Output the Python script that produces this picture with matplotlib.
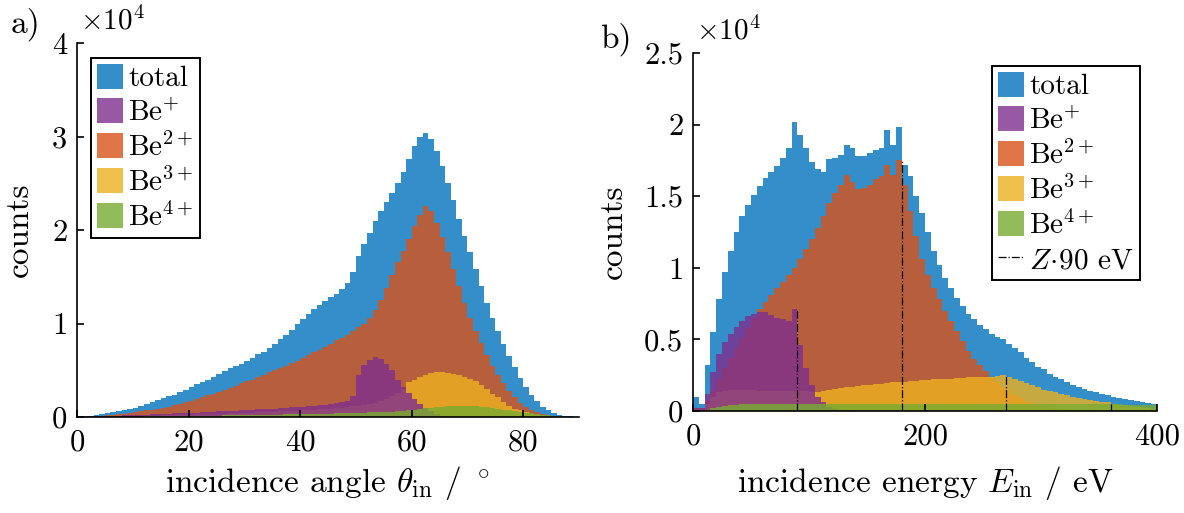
import matplotlib
matplotlib.use('Agg')
import matplotlib.pyplot as plt
from matplotlib.ticker import FuncFormatter
import numpy as np

# ---- panel a: incidence angle histogram, 1 deg bins, counts in units of 1e4
angle_edges = np.arange(0, 91, 1)
angle_total = [0.005, 0.01, 0.015, 0.02, 0.03, 0.04, 0.05, 0.06, 0.07, 0.085,
               0.1, 0.12, 0.14, 0.16, 0.18, 0.2, 0.22, 0.24, 0.27, 0.29,
               0.32, 0.35, 0.37, 0.4, 0.43, 0.46, 0.49, 0.52, 0.55, 0.57,
               0.6, 0.63, 0.67, 0.7, 0.74, 0.78, 0.83, 0.88, 0.93, 0.99,
               1.05, 1.1, 1.15, 1.2, 1.24, 1.28, 1.32, 1.37, 1.43, 1.55,
               1.72, 1.85, 1.97, 2.1, 2.2, 2.3, 2.4, 2.5, 2.62, 2.76,
               2.9, 2.99, 3.04, 2.97, 2.85, 2.68, 2.5, 2.32, 2.12, 1.94,
               1.76, 1.58, 1.4, 1.22, 1.06, 0.92, 0.78, 0.65, 0.53, 0.42,
               0.32, 0.24, 0.17, 0.11, 0.07, 0.04, 0.025, 0.012, 0.006, 0.002]
angle_be1 = [0.002, 0.004, 0.006, 0.008, 0.01, 0.012, 0.014, 0.016, 0.018, 0.02,
             0.022, 0.024, 0.026, 0.029, 0.031, 0.033, 0.036, 0.038, 0.04, 0.043,
             0.045, 0.048, 0.05, 0.053, 0.056, 0.059, 0.062, 0.066, 0.069, 0.072,
             0.075, 0.078, 0.081, 0.084, 0.087, 0.09, 0.094, 0.098, 0.102, 0.106,
             0.11, 0.115, 0.12, 0.125, 0.13, 0.14, 0.15, 0.16, 0.17, 0.22,
             0.45, 0.56, 0.61, 0.64, 0.62, 0.57, 0.5, 0.4, 0.32, 0.26,
             0.19, 0.14, 0.1, 0.06, 0.03, 0.015, 0.005, 0.002, 0, 0,
             0, 0, 0, 0, 0, 0, 0, 0, 0, 0,
             0, 0, 0, 0, 0, 0, 0, 0, 0, 0]
angle_be2 = [0.002, 0.005, 0.008, 0.012, 0.016, 0.02, 0.025, 0.03, 0.037, 0.044,
             0.05, 0.06, 0.07, 0.08, 0.09, 0.1, 0.11, 0.13, 0.14, 0.16,
             0.17, 0.19, 0.21, 0.23, 0.25, 0.27, 0.29, 0.31, 0.33, 0.36,
             0.38, 0.4, 0.43, 0.45, 0.48, 0.5, 0.52, 0.55, 0.58, 0.6,
             0.63, 0.66, 0.69, 0.72, 0.75, 0.78, 0.82, 0.85, 0.88, 0.92,
             0.96, 1.0, 1.06, 1.14, 1.25, 1.38, 1.52, 1.66, 1.78, 1.9,
             2.04, 2.16, 2.26, 2.2, 2.08, 1.93, 1.76, 1.58, 1.4, 1.22,
             1.06, 0.92, 0.79, 0.66, 0.55, 0.45, 0.36, 0.28, 0.21, 0.15,
             0.11, 0.075, 0.05, 0.03, 0.02, 0.01, 0.005, 0.003, 0.001, 0]
angle_be3 = [0, 0.001, 0.002, 0.002, 0.003, 0.004, 0.005, 0.006, 0.007, 0.008,
             0.01, 0.011, 0.012, 0.014, 0.015, 0.017, 0.018, 0.02, 0.022, 0.023,
             0.025, 0.027, 0.029, 0.031, 0.033, 0.035, 0.037, 0.039, 0.041, 0.043,
             0.045, 0.047, 0.05, 0.052, 0.055, 0.057, 0.06, 0.062, 0.065, 0.068,
             0.07, 0.074, 0.077, 0.081, 0.085, 0.09, 0.095, 0.1, 0.106, 0.113,
             0.12, 0.13, 0.14, 0.155, 0.17, 0.19, 0.22, 0.26, 0.3, 0.37,
             0.4, 0.43, 0.45, 0.47, 0.48, 0.48, 0.475, 0.465, 0.45, 0.43,
             0.41, 0.38, 0.34, 0.3, 0.25, 0.21, 0.16, 0.12, 0.09, 0.07,
             0.05, 0.035, 0.025, 0.015, 0.01, 0.005, 0.002, 0, 0, 0]
angle_be4 = [0, 0, 0.001, 0.001, 0.001, 0.002, 0.002, 0.003, 0.003, 0.004,
             0.005, 0.005, 0.006, 0.007, 0.008, 0.008, 0.009, 0.01, 0.011, 0.011,
             0.012, 0.013, 0.014, 0.015, 0.015, 0.016, 0.017, 0.018, 0.019, 0.019,
             0.02, 0.021, 0.022, 0.023, 0.024, 0.025, 0.026, 0.027, 0.028, 0.029,
             0.03, 0.031, 0.033, 0.034, 0.036, 0.037, 0.039, 0.04, 0.042, 0.043,
             0.045, 0.047, 0.049, 0.051, 0.053, 0.055, 0.058, 0.062, 0.067, 0.072,
             0.078, 0.085, 0.092, 0.1, 0.106, 0.11, 0.115, 0.118, 0.12, 0.12,
             0.118, 0.115, 0.11, 0.103, 0.096, 0.088, 0.08, 0.072, 0.063, 0.055,
             0.047, 0.04, 0.032, 0.025, 0.018, 0.012, 0.008, 0.004, 0.002, 0.001]

# ---- panel b: incidence energy histogram, 5 eV bins, counts in units of 1e4
energy_edges = np.arange(0, 405, 5)
energy_total = [0.1, 0.05, 0.32, 0.55, 0.78, 0.97, 1.12, 1.25, 1.36, 1.44,
                1.51, 1.57, 1.63, 1.67, 1.71, 1.77, 1.84, 2.02, 1.93, 1.84,
                1.74, 1.69, 1.67, 1.76, 1.77, 1.79, 1.86, 1.84, 1.78, 1.78,
                1.8, 1.82, 1.84, 1.96, 1.86, 1.98, 1.72, 1.64, 1.5, 1.38,
                1.25, 1.12, 1.02, 0.93, 0.86, 0.79, 0.73, 0.68, 0.64, 0.6,
                0.57, 0.54, 0.52, 0.5, 0.47, 0.44, 0.41, 0.37, 0.34, 0.31,
                0.29, 0.26, 0.24, 0.22, 0.2, 0.185, 0.17, 0.155, 0.14, 0.13,
                0.12, 0.11, 0.1, 0.09, 0.085, 0.075, 0.07, 0.06, 0.055, 0.05]
energy_be1 = [0.02, 0.02, 0.12, 0.27, 0.4, 0.48, 0.54, 0.59, 0.63, 0.66,
              0.68, 0.69, 0.69, 0.67, 0.65, 0.64, 0.63, 0.71, 0.46, 0.3,
              0.18, 0.1, 0.06, 0.03, 0.015, 0.008, 0.004, 0.002, 0, 0,
              0, 0, 0, 0, 0, 0, 0, 0, 0, 0,
              0, 0, 0, 0, 0, 0, 0, 0, 0, 0,
              0, 0, 0, 0, 0, 0, 0, 0, 0, 0,
              0, 0, 0, 0, 0, 0, 0, 0, 0, 0,
              0, 0, 0, 0, 0, 0, 0, 0, 0, 0]
energy_be2 = [0.02, 0.02, 0.08, 0.15, 0.22, 0.3, 0.37, 0.44, 0.51, 0.58,
              0.65, 0.71, 0.76, 0.81, 0.86, 0.9, 0.95, 1.0, 1.06, 1.13,
              1.2, 1.28, 1.36, 1.45, 1.52, 1.58, 1.65, 1.6, 1.55, 1.56,
              1.58, 1.62, 1.64, 1.72, 1.65, 1.75, 1.58, 1.4, 1.22, 1.06,
              0.95, 0.86, 0.78, 0.7, 0.63, 0.56, 0.49, 0.42, 0.36, 0.32,
              0.28, 0.24, 0.2, 0.17, 0.14, 0.11, 0.09, 0.07, 0.055, 0.045,
              0.035, 0.028, 0.022, 0.017, 0.013, 0.01, 0.008, 0.006, 0.005, 0.004,
              0.003, 0.002, 0.002, 0.001, 0.001, 0.001, 0, 0, 0, 0]
energy_be3 = [0, 0.01, 0.05, 0.1, 0.13, 0.14, 0.15, 0.15, 0.15, 0.15,
              0.15, 0.14, 0.14, 0.14, 0.14, 0.14, 0.14, 0.14, 0.14, 0.14,
              0.13, 0.13, 0.14, 0.15, 0.155, 0.16, 0.165, 0.17, 0.175, 0.18,
              0.185, 0.19, 0.19, 0.195, 0.2, 0.2, 0.205, 0.21, 0.21, 0.215,
              0.215, 0.22, 0.22, 0.225, 0.225, 0.23, 0.23, 0.235, 0.235, 0.24,
              0.24, 0.24, 0.245, 0.25, 0.24, 0.225, 0.21, 0.195, 0.18, 0.165,
              0.15, 0.14, 0.13, 0.12, 0.11, 0.1, 0.09, 0.085, 0.075, 0.07,
              0.065, 0.06, 0.05, 0.045, 0.04, 0.035, 0.03, 0.025, 0.02, 0.015]
energy_be4 = [0, 0, 0.01, 0.02, 0.03, 0.035, 0.04, 0.045, 0.05, 0.05,
              0.05, 0.05, 0.05, 0.052, 0.052, 0.052, 0.052, 0.052, 0.052, 0.052,
              0.052, 0.052, 0.052, 0.052, 0.052, 0.052, 0.052, 0.052, 0.052, 0.052,
              0.052, 0.052, 0.052, 0.052, 0.052, 0.052, 0.052, 0.052, 0.052, 0.052,
              0.052, 0.052, 0.052, 0.052, 0.052, 0.052, 0.052, 0.052, 0.052, 0.052,
              0.05, 0.05, 0.05, 0.05, 0.05, 0.05, 0.05, 0.05, 0.05, 0.05,
              0.05, 0.05, 0.05, 0.05, 0.05, 0.05, 0.048, 0.048, 0.048, 0.048,
              0.048, 0.048, 0.046, 0.046, 0.045, 0.044, 0.043, 0.042, 0.04, 0.04]

charge_states = [1, 2, 3, 4]   # Z * 90 eV markers
species = ['total', 'Be1', 'Be2', 'Be3', 'Be4']
labels = {'total': 'total', 'Be1': r'Be$^{+}$', 'Be2': r'Be$^{2+}$',
          'Be3': r'Be$^{3+}$', 'Be4': r'Be$^{4+}$'}
colors = {'total': '#0072BD', 'Be1': '#7E2F8E', 'Be2': '#D95319',
          'Be3': '#EDB120', 'Be4': '#77AC30'}
draw_order = ['total', 'Be2', 'Be3', 'Be1', 'Be4']
face_alpha = 0.8

params = {'font.family': 'serif',
          'font.serif': ['cmr10'],
          'mathtext.fontset': 'cm',
          'axes.formatter.use_mathtext': True,
          'font.size': 22,
          'axes.linewidth': 1.2,
          'xtick.direction': 'in',
          'ytick.direction': 'in',
          'xtick.major.size': 5,
          'ytick.major.size': 5,
          'xtick.major.width': 1.2,
          'ytick.major.width': 1.2,
          'xtick.major.pad': 9,
          'ytick.major.pad': 7,
          'xtick.labelsize': 22,
          'ytick.labelsize': 22,
          'legend.fontsize': 21}
plt.rcParams.update(params)

W, H = 1184, 513
fig = plt.figure(figsize=(W / 100, H / 100), dpi=100)


def px_axes(left, right, top, bottom):
    return fig.add_axes([left / W, 1 - bottom / H, (right - left) / W, (bottom - top) / H])


def draw_hist(ax, edges, data):
    handles = {}
    for key in draw_order:
        handles[key] = ax.stairs(data[key], edges, fill=True, color=colors[key],
                                 alpha=face_alpha, linewidth=0, label=labels[key])
    return handles


def style_axes(ax, xlim, ylim, xticks, yticks, xlabel):
    ax.set_xlim(*xlim)
    ax.set_ylim(*ylim)
    ax.set_xticks(xticks)
    ax.set_yticks(yticks)
    ax.yaxis.set_major_formatter(FuncFormatter(lambda v, p: '%g' % v))
    ax.xaxis.set_major_formatter(FuncFormatter(lambda v, p: '%g' % v))
    for s in ['top', 'right']:
        ax.spines[s].set_visible(False)
    ax.set_xlabel(xlabel, fontsize=24)
    ax.set_ylabel('counts', fontsize=24)
    ax.xaxis.label.set_va('center')
    ax.annotate(r'$\times10^4$', xy=(0, 1), xycoords='axes fraction',
                xytext=(3, 22), textcoords='offset pixels',
                ha='left', va='center', fontsize=21)


def add_legend(ax, handles, texts, loc, anchor):
    leg = ax.legend(handles, texts, loc=loc, bbox_to_anchor=anchor,
                    bbox_transform=fig.transFigure, frameon=True, fancybox=False,
                    edgecolor='black', framealpha=1, borderpad=0.2, borderaxespad=0,
                    handlelength=0.88, handleheight=0.95, handletextpad=0.2,
                    labelspacing=0.2)
    leg.get_frame().set_linewidth(1.4)
    return leg


# ---------------- panel a
ax1 = px_axes(77, 579, 43, 417)
h1 = draw_hist(ax1, angle_edges, {'total': angle_total, 'Be1': angle_be1, 'Be2': angle_be2,
                                   'Be3': angle_be3, 'Be4': angle_be4})
style_axes(ax1, (0, 90), (0, 4), [0, 20, 40, 60, 80], [0, 1, 2, 3, 4],
           r'incidence angle $\theta_\mathrm{in}$ / $^\circ$')
ax1.xaxis.set_label_coords(0.5, -(483 - 417) / 374)
ax1.yaxis.set_label_coords(-(77 - 34) / 502, 0.5)
add_legend(ax1, [h1[k] for k in species], [labels[k] for k in species],
           'upper left', (91 / W, 1 - 58 / H))

# ---------------- panel b
ax2 = px_axes(693, 1157, 53, 411)
e_data = {'total': energy_total, 'Be1': energy_be1, 'Be2': energy_be2,
          'Be3': energy_be3, 'Be4': energy_be4}
h2 = draw_hist(ax2, energy_edges, e_data)
line = None
for z in charge_states:
    e_z = 90 * z
    idx = int(e_z // 5) - 1
    top = e_data['Be%d' % z][idx]
    line, = ax2.plot([e_z, e_z], [0, top], color='black', linestyle='-.', linewidth=0.9)
style_axes(ax2, (0, 400), (0, 2.5), [0, 200, 400], [0, 0.5, 1, 1.5, 2, 2.5],
           r'incidence energy $E_\mathrm{in}$ / eV')
ax2.xaxis.set_label_coords(0.5, -(483 - 411) / 358)
ax2.yaxis.set_label_coords(-(693 - 628) / 464, 0.5)
add_legend(ax2, [h2[k] for k in species] + [line],
           [labels[k] for k in species] + [r'$Z\!\cdot\!90$ eV'],
           'upper right', (1140 / W, 1 - 66 / H))

fig.text(11 / W, 1 - 24 / H, 'a)', ha='left', va='center', fontsize=24)
fig.text(600 / W, 1 - 39 / H, 'b)', ha='left', va='center', fontsize=24)

fig.savefig('out.png', dpi=100)
